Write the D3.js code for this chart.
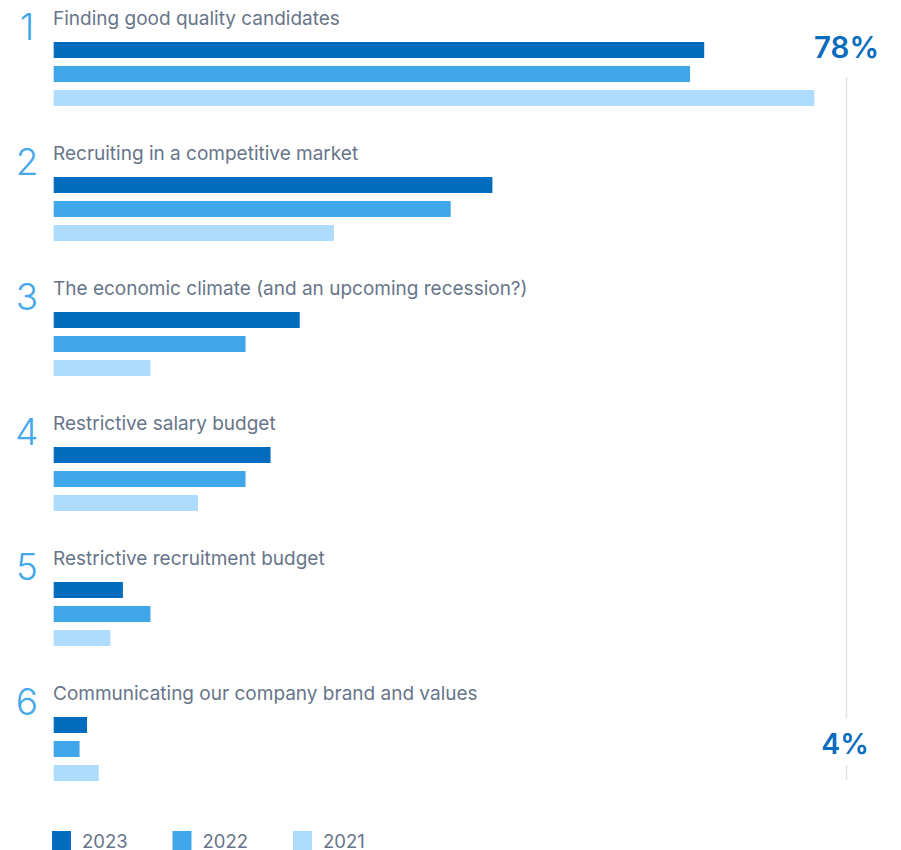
<!DOCTYPE html>
<html>
<head>
<meta charset="utf-8">
<script src="https://cdn.jsdelivr.net/npm/d3@7"></script>
<style>
  html, body { margin: 0; padding: 0; background: #fff; }
  svg { display: block; font-family: Inter, "Open Sans", sans-serif; }
</style>
</head>
<body>
<svg id="chart" width="901" height="850"></svg>
<script>
// Top recruitment challenges, share of respondents (%) by survey year
const categories = [
  "Finding good quality candidates",
  "Recruiting in a competitive market",
  "The economic climate (and an upcoming recession?)",
  "Restrictive salary budget",
  "Restrictive recruitment budget",
  "Communicating our company brand and values"
];
const years = ["2023", "2022", "2021"];
const values2023 = [78, 52.6, 29.5, 26, 8.3, 4];
const values2022 = [76.3, 47.6, 23, 23, 11.6, 3.1];
const values2021 = [91.2, 33.6, 11.6, 17.3, 6.8, 5.4];
const seriesValues = [values2023, values2022, values2021];
const colors = ["#006cbd", "#3fa6ea", "#aedcfe"];

const svg = d3.select("#chart");

const x = d3.scaleLinear().domain([0, 100]).range([53.7, 887.7]);
const group = d3.scaleBand().domain(d3.range(categories.length)).range([0, 810]);
const inner = d3.scaleBand().domain(years).range([42, 106]).paddingInner(1 / 3).paddingOuter(0);

const rows = svg.selectAll("g.row")
  .data(categories)
  .join("g")
  .attr("class", "row")
  .attr("transform", (d, i) => `translate(0,${group(i)})`);

rows.append("text")
  .attr("x", 27)
  .attr("y", 39.5)
  .attr("text-anchor", "middle")
  .attr("font-size", 37)
  .attr("font-weight", 300)
  .attr("fill", "#45a7ec")
  .text((d, i) => i + 1);

rows.append("text")
  .attr("x", 53)
  .attr("y", 25)
  .attr("font-size", 19)
  .attr("fill", "#67758a")
  .text(d => d);

rows.selectAll("rect")
  .data((d, i) => years.map((y, k) => ({ year: y, value: seriesValues[k][i], k })))
  .join("rect")
  .attr("x", x(0))
  .attr("y", d => inner(d.year))
  .attr("width", d => x(d.value) - x(0))
  .attr("height", inner.bandwidth())
  .attr("fill", d => colors[d.k]);

// Range guide between the highest and lowest 2023 shares
const maxVal = d3.max(values2023);
const minVal = d3.min(values2023);
const guideX = 846.5;
const lastRow = group(categories.length - 1);

svg.append("line")
  .attr("x1", guideX).attr("x2", guideX)
  .attr("y1", 77).attr("y2", lastRow + 44)
  .attr("stroke", "#e3e3e3").attr("stroke-width", 1.5);
svg.append("line")
  .attr("x1", guideX).attr("x2", guideX)
  .attr("y1", lastRow + 90).attr("y2", lastRow + 105)
  .attr("stroke", "#e3e3e3").attr("stroke-width", 1.5);

svg.append("text")
  .attr("x", guideX).attr("y", 57.5)
  .attr("text-anchor", "middle")
  .attr("font-size", 29.5)
  .attr("font-weight", 600)
  .attr("fill", "#0a6cbd")
  .text(maxVal + "%");

svg.append("text")
  .attr("x", guideX - 1.5).attr("y", lastRow + 78.5)
  .attr("text-anchor", "middle")
  .attr("font-size", 28.5)
  .attr("font-weight", 600)
  .attr("fill", "#0a6cbd")
  .text(minVal + "%");

// Legend
const legendX = d3.scalePoint().domain(years).range([52, 293]);
const legend = svg.selectAll("g.legend")
  .data(years)
  .join("g")
  .attr("class", "legend")
  .attr("transform", d => `translate(${legendX(d)},831)`);
legend.append("rect")
  .attr("width", 19).attr("height", 19)
  .attr("fill", (d, i) => colors[i]);
legend.append("text")
  .attr("x", 30).attr("y", 16.5)
  .attr("font-size", 18.5)
  .attr("fill", "#67758a")
  .text(d => d);
</script>
</body>
</html>
